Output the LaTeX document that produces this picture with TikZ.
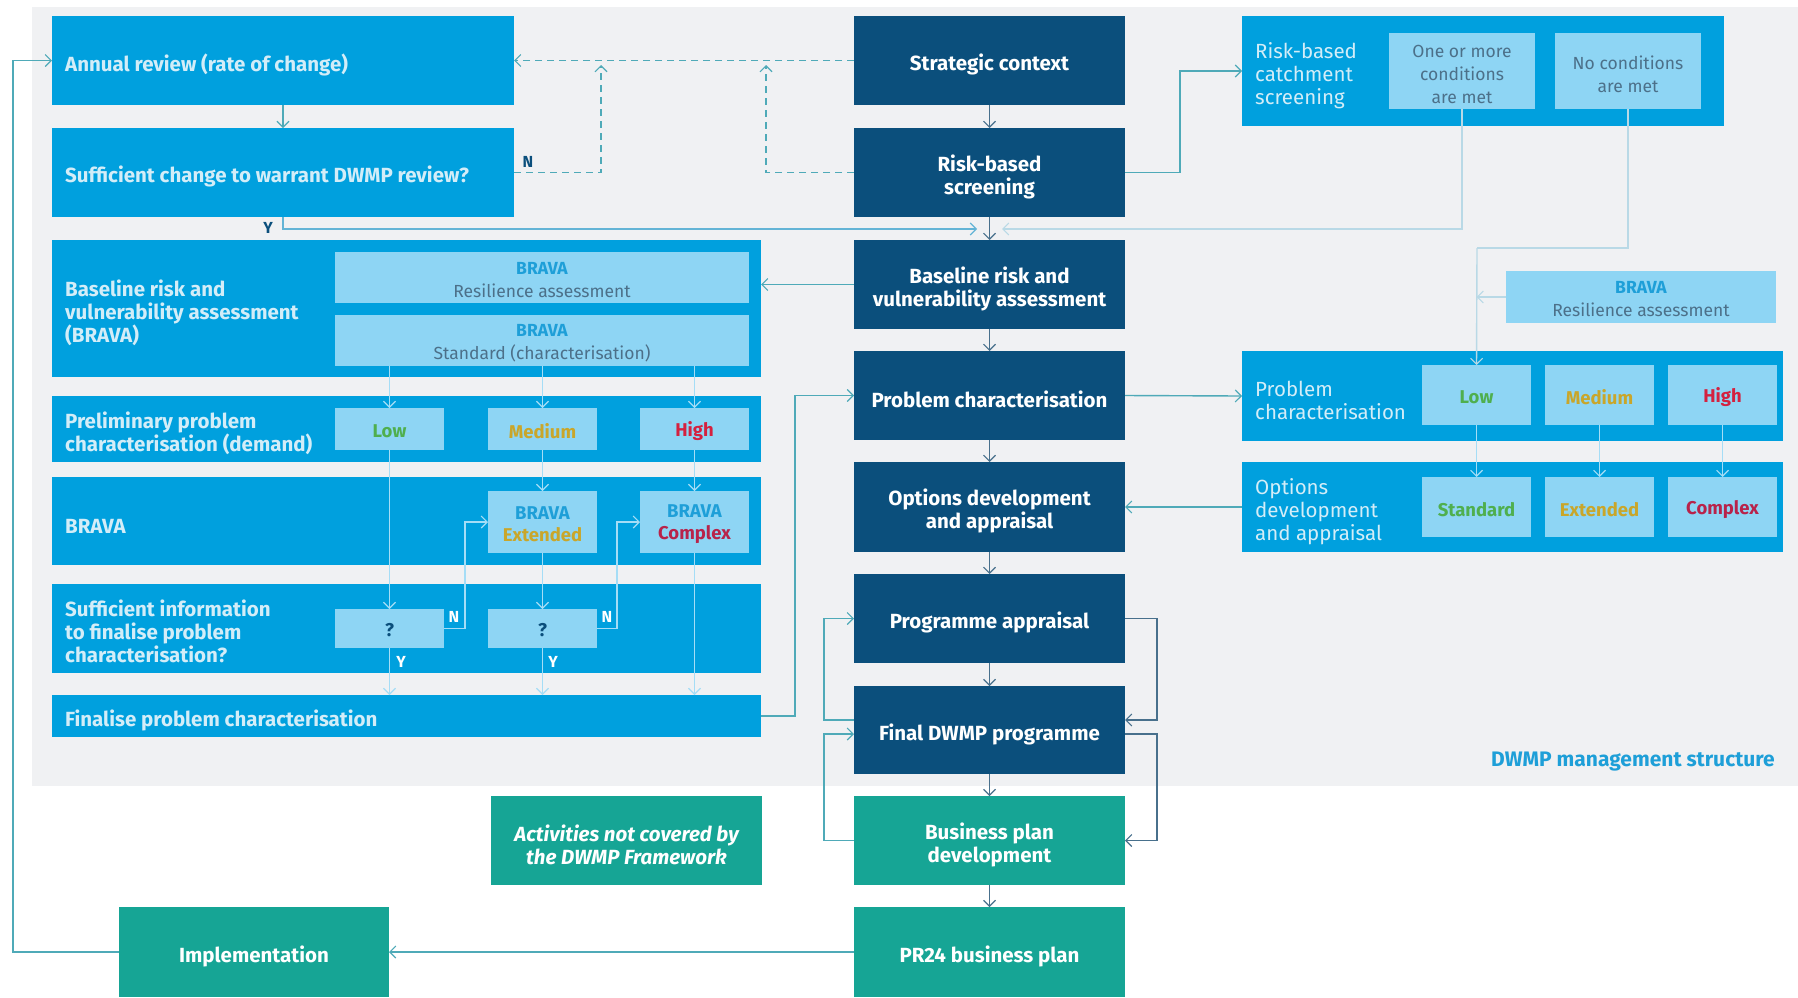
\documentclass[tikz,border=0pt]{standalone}
\usepackage{fontspec}
\setmainfont{Fira Sans}
\usetikzlibrary{arrows.meta}

\definecolor{bgGrey}{HTML}{F0F1F3}
\definecolor{panelBlue}{HTML}{00A0DE}
\definecolor{innerBlue}{HTML}{8ED5F4}
\definecolor{navy}{HTML}{0B4F7C}
\definecolor{tealBox}{HTML}{16A595}
\definecolor{panelText}{HTML}{D3EDF8}
\definecolor{slateText}{HTML}{4C7089}
\definecolor{bravaBlue}{HTML}{1E9FD8}
\definecolor{lowGreen}{HTML}{4FAF4E}
\definecolor{medGold}{HTML}{C9A62A}
\definecolor{highRed}{HTML}{D4213F}
\definecolor{cplxRed}{HTML}{B8234A}
\definecolor{connDark}{HTML}{48708C}
\definecolor{connTeal}{HTML}{4FAAB8}
\definecolor{connBlue}{HTML}{63B4D6}
\definecolor{connPale}{HTML}{B9D9E6}
\definecolor{connInner}{HTML}{A5DDF6}

% box placed by its top-left and bottom-right corners; its text sits in a
% second node, lowered by #7 so that capitals look centred
\newcommand{\bx}[8]{%
  \node[#6, anchor=north west, minimum width={#4-#2}, minimum height={#5-#3}] (#1) at (#2,#3) {};
  \node[#6, fill=none, minimum width=0pt, minimum height=0pt, anchor=center] (#1-t) at ([yshift=-#7pt]#1.center) {#8};}

\tikzset{
  base/.style={inner sep=0pt, outer sep=0pt, align=center},
  darkbox/.style={base, fill=navy, text=white, font=\fontsize{20.5}{23}\selectfont\bfseries},
  tealbox/.style={base, fill=tealBox, text=white, font=\fontsize{20.5}{23}\selectfont\bfseries},
  panel/.style={base, fill=panelBlue},
  inner/.style={base, fill=innerBlue, text=slateText, font=\fontsize{17.5}{23}\selectfont},
  lvl/.style={base, fill=innerBlue, font=\fontsize{18.5}{22}\selectfont\bfseries},
  ptext/.style={inner sep=0pt, anchor=west, align=left, text=panelText, font=\fontsize{20.5}{23}\selectfont\bfseries},
  rtext/.style={inner sep=0pt, anchor=west, align=left, text=panelText, font=\fontsize{20.5}{23}\selectfont},
  yn/.style={inner sep=0pt, font=\fontsize{16}{19}\selectfont\bfseries},
  tip/.style={-{Straight Barb[length=6pt,width=12pt,line width=1.1pt]}},
  cdark/.style={draw=connDark, line width=1.4pt},
  cteal/.style={draw=connTeal, line width=1.4pt},
  cblue/.style={draw=connBlue, line width=1.4pt},
  cpale/.style={draw=connPale, line width=1.4pt},
  cinner/.style={draw=connInner, line width=1.1pt},
  dashline/.style={dashed, dash pattern=on 7pt off 5pt},
}

\begin{document}
\begin{tikzpicture}[x=1pt, y=-1pt]
\useasboundingbox (0,0) rectangle (1798,997);
\fill[bgGrey] (32,7) rectangle (1798,786);

% ---------- central column ----------
\bx{sc}{854}{16}{1125}{105}{darkbox}{4}{Strategic context}
\bx{rbs}{854}{128}{1125}{217}{darkbox}{4}{Risk-based\\screening}
\bx{bra}{854}{240}{1125}{329}{darkbox}{4}{Baseline risk and\\vulnerability assessment}
\bx{pc}{854}{351}{1125}{440}{darkbox}{4}{Problem characterisation}
\bx{od}{854}{462}{1125}{552}{darkbox}{4}{Options development\\and appraisal}
\bx{pa}{854}{574}{1125}{663}{darkbox}{4}{Programme appraisal}
\bx{fp}{854}{686}{1125}{774}{darkbox}{4}{Final DWMP programme}
\bx{bp}{854}{796}{1125}{885}{tealbox}{4}{Business plan\\development}
\bx{pr}{854}{907}{1125}{997}{tealbox}{4}{PR24 business plan}
\bx{act}{491}{796}{762}{885}{tealbox}{4}{\itshape Activities not covered by\\\itshape the DWMP Framework}
\bx{impl}{119}{907}{389}{997}{tealbox}{4}{Implementation}

% ---------- left column ----------
\bx{ar}{52}{16}{514}{105}{panel}{0}{}
\node[ptext] (arT) at (65,65) {Annual review (rate of change)};
\bx{scw}{52}{128}{514}{217}{panel}{0}{}
\node[ptext] (scwT) at (65,176) {Sufficient change to warrant DWMP review?};

\bx{p1}{52}{240}{761}{377}{panel}{0}{}
\node[ptext] (p1T) at (65,313) {Baseline risk and\\vulnerability assessment\\(BRAVA)};
\bx{res}{335}{252}{749}{303}{inner}{2.5}{\textcolor{bravaBlue}{\bfseries BRAVA}\\Resilience assessment}
\bx{std}{335}{315}{749}{366}{inner}{2.5}{\textcolor{bravaBlue}{\bfseries BRAVA}\\Standard (characterisation)}

\bx{p2}{52}{396}{761}{462}{panel}{0}{}
\node[ptext] (p2T) at (65,433) {Preliminary problem\\characterisation (demand)};
\bx{low}{335}{408}{444}{450}{lvl, text=lowGreen}{2.5}{Low}
\bx{med}{488}{408}{597}{450}{lvl, text=medGold}{2.5}{Medium}
\bx{high}{640}{408}{749}{450}{lvl, text=highRed}{2.5}{High}

\bx{p3}{52}{477}{761}{565}{panel}{0}{}
\node[ptext] (p3T) at (65,526) {BRAVA};
\bx{ext}{488}{491}{597}{553}{lvl}{2.5}{\textcolor{bravaBlue}{BRAVA}\\\textcolor{medGold}{Extended}}
\bx{cmp}{640}{491}{749}{553}{lvl}{2.5}{\textcolor{bravaBlue}{BRAVA}\\\textcolor{cplxRed}{Complex}}

\bx{p4}{52}{584}{761}{673}{panel}{0}{}
\node[ptext] (p4T) at (65,631) {Sufficient information\\to finalise problem\\characterisation?};
\bx{q1}{335}{609}{444}{648}{lvl, text=navy}{2}{?}
\bx{q2}{488}{609}{597}{648}{lvl, text=navy}{2}{?}

\bx{p5}{52}{695}{761}{737}{panel}{0}{}
\node[ptext] (p5T) at (65,720) {Finalise problem characterisation};

% ---------- right column ----------
\bx{catch}{1242}{16}{1724}{126}{panel}{0}{}
\node[rtext] (catchT) at (1255,76) {Risk-based\\catchment\\screening};
\bx{one}{1389}{33}{1535}{109}{inner}{3}{One or more\\conditions\\are met}
\bx{none}{1555}{33}{1701}{109}{inner}{3}{No conditions\\are met}

\bx{bres}{1506}{271}{1776}{323}{inner}{2.5}{\textcolor{bravaBlue}{\bfseries BRAVA}\\Resilience assessment}

\bx{rp}{1242}{351}{1783}{441}{panel}{0}{}
\node[rtext] (rpT) at (1255,400) {Problem\\characterisation};
\bx{rlow}{1422}{365}{1531}{425}{lvl, text=lowGreen}{2.5}{Low}
\bx{rmed}{1545}{365}{1654}{425}{lvl, text=medGold}{2.5}{Medium}
\bx{rhigh}{1668}{365}{1777}{425}{lvl, text=highRed}{2.5}{High}

\bx{ro}{1242}{462}{1783}{552}{panel}{0}{}
\node[rtext] (roT) at (1255,512) {Options\\development\\and appraisal};
\bx{rstd}{1422}{477}{1531}{537}{lvl, text=lowGreen}{2.5}{Standard}
\bx{rext}{1545}{477}{1654}{537}{lvl, text=medGold}{2.5}{Extended}
\bx{rcmp}{1668}{477}{1777}{537}{lvl, text=cplxRed}{2.5}{Complex}

\node[inner sep=0pt, anchor=east, text=bravaBlue, font=\fontsize{21}{24}\selectfont\bfseries] (mgmt) at (1775,762) {DWMP management structure};

% ---------- helper points ----------
\coordinate (d1) at (601,65);
\coordinate (d2) at (766,65);
\coordinate (yIn) at (977,229);
\coordinate (oneIn) at (1002,229);
\coordinate (noneBend) at (1477,248);
\coordinate (fpR1) at (1125,720);
\coordinate (fpL1) at (854,720);
\coordinate (fpR2) at (1125,734);
\coordinate (fpL2) at (854,734);

% ---------- connectors: central spine ----------
\draw[cdark, tip] (sc) -- (rbs);
\draw[cdark, tip] (rbs) -- (bra);
\draw[cdark, tip] (bra) -- (pc);
\draw[cdark, tip] (pc) -- (od);
\draw[cdark, tip] (od) -- (pa);
\draw[cdark, tip] (pa) -- (fp);
\draw[cdark, tip] (fp) -- (bp);
\draw[cdark, tip] (bp) -- (pr);

% review loop
\draw[cteal, tip] (ar) -- (scw);
\draw[cteal, dashline, tip] (sc.west) -- (ar.east);
\draw[cteal, dashline, tip] (scw.east) -| (d1);
\draw[cteal, dashline, tip] (rbs.west) -| (d2);
\node[yn, text=navy] (nTop) at (528,162) {N};
\draw[cblue, tip] (scw.south) |- (yIn);
\node[yn, text=navy] (yTop) at (268,228) {Y};

% screening
\draw[cteal, tip] (rbs.east) -- ++(55,0) |- (catch.west);
\draw[cpale, tip] (one.south) |- (oneIn);
\draw[cpale] (none.south) |- (noneBend);
\draw[cpale, tip] (noneBend) -- (rlow.north);
\draw[cpale, tip] (bres.west) -- (bres.west -| rlow.north);

% baseline to left panels
\draw[cteal, tip] (bra.west) -- (bra.west -| p1.east);
\draw[cinner, tip] (std.south -| low.north) -- (low.north);
\draw[cinner, tip] (std.south -| med.north) -- (med.north);
\draw[cinner, tip] (std.south -| high.north) -- (high.north);
\draw[cinner, tip] (low.south) -- (q1.north);
\draw[cinner, tip] (med.south) -- (ext.north);
\draw[cinner, tip] (high.south) -- (cmp.north);
\draw[cinner, tip] (ext.south) -- (q2.north);
\draw[cinner, tip] (q1.south) -- (q1.south |- p5.north);
\draw[cinner, tip] (q2.south) -- (q2.south |- p5.north);
\draw[cinner, tip] (cmp.south) -- (cmp.south |- p5.north);
\draw[cinner, tip] (q1.east) -- ++(21,0) |- (ext.west);
\draw[cinner, tip] (q2.east) -- ++(20,0) |- (cmp.west);
\node[yn, text=white] (n1) at (454,617) {N};
\node[yn, text=white] (n2) at (607,617) {N};
\node[yn, text=white] (y1) at (401,662) {Y};
\node[yn, text=white] (y2) at (553,662) {Y};

\draw[cteal, tip] (p5.east) -- ++(34,0) |- (pc.west);

% right panels
\draw[cteal, tip] (pc.east) -- (rp.west);
\draw[cinner, tip] (rlow) -- (rstd);
\draw[cinner, tip] (rmed) -- (rext);
\draw[cinner, tip] (rhigh) -- (rcmp);
\draw[cteal, tip] (ro.west) -- (od.east);

% programme loops
\draw[cdark, tip] (pa.east) -- ++(32,0) |- (fpR1);
\draw[cteal, tip] (fpL1) -- ++(-30,0) |- (pa.west);
\draw[cdark, tip] (fpR2) -- ++(32,0) |- (bp.east);
\draw[cteal, tip] (bp.west) -- ++(-30,0) |- (fpL2);

% delivery
\draw[cteal, tip] (pr.west) -- (impl.east);
\draw[cteal, tip] (impl.west) -- ++(-106,0) |- (ar.west);
\end{tikzpicture}
\end{document}
